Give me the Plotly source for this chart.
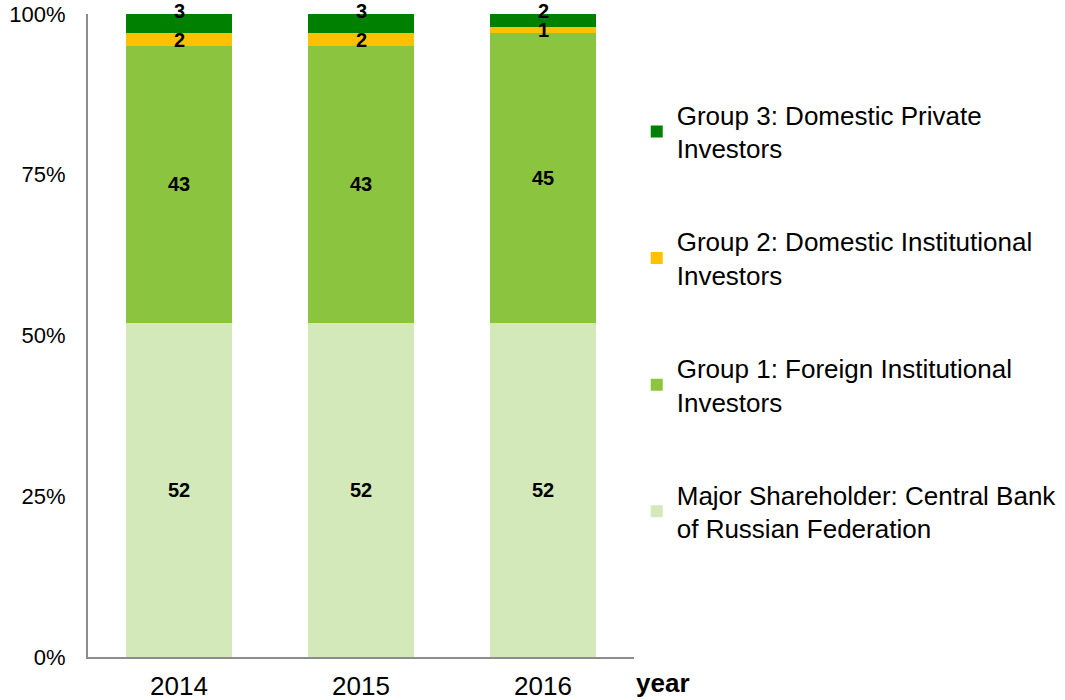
import plotly.graph_objects as go

years = ["2014", "2015", "2016"]
major = [52, 52, 52]
group1 = [43, 43, 45]
group2 = [2, 2, 1]
group3 = [3, 3, 2]
y_ticks = [0, 25, 50, 75, 100]
y_tick_labels = ["0%", "25%", "50%", "75%", "100%"]

series = [
    ("Major Shareholder: Central Bank<br>of Russian Federation", major, "#D3E9B9"),
    ("Group 1: Foreign Institutional<br>Investors", group1, "#8BC53F"),
    ("Group 2: Domestic Institutional<br>Investors", group2, "#FFC000"),
    ("Group 3: Domestic Private<br>Investors", group3, "#008000"),
]

FONT = "Liberation Sans, Arial, sans-serif"
fig = go.Figure()
n = len(series)
for i, (name, vals, color) in enumerate(series):
    fig.add_trace(go.Bar(
        x=years, y=vals, name=name, marker=dict(color=color, line=dict(width=0)),
        legendgroup=f"g{i}", legendrank=n - i, hoverinfo="skip",
    ))

# data labels computed from cumulative sums (x given as category index)
annotations = []
for j, yr in enumerate(years):
    base = 0
    for i, (name, vals, color) in enumerate(series):
        v = vals[j]
        top = base + v
        is_top = i == n - 1
        annotations.append(dict(
            x=j, y=top if is_top else base + v / 2, xref="x", yref="y",
            text=f"<b>{v}</b>", showarrow=False,
            font=dict(family=FONT, size=20, color="black"),
            yshift=3 if is_top else 0,
            xanchor="center", yanchor="middle",
        ))
        base = top

annotations.append(dict(
    x=1.053, y=-0.04, xref="paper", yref="paper", text="<b>year</b>",
    showarrow=False, font=dict(family=FONT, size=26, color="black"),
    xanchor="center", yanchor="middle",
))

fig.update_layout(
    barmode="stack",
    bargap=0.42,
    width=1065, height=700,
    margin=dict(l=88, r=431, t=14, b=43, autoexpand=False),
    paper_bgcolor="white", plot_bgcolor="white",
    font=dict(family=FONT, color="black"),
    annotations=annotations,
    showlegend=True,
    legend=dict(
        traceorder="grouped", tracegroupgap=56,
        x=1.005, xanchor="left", y=0.88, yanchor="top",
        font=dict(family=FONT, size=26, color="black"),
        bgcolor="rgba(0,0,0,0)",
    ),
    xaxis=dict(
        type="category", automargin=False, autorange=False, range=[-0.5, 2.5],
        showline=True, linecolor="#8C8C8C", linewidth=2,
        tickfont=dict(family=FONT, size=26), showgrid=False,
        ticks="outside", ticklen=5, tickcolor="rgba(0,0,0,0)",
    ),
    yaxis=dict(
        range=[0, 100], tickmode="array", tickvals=y_ticks, ticktext=y_tick_labels,
        automargin=False,
        showline=True, linecolor="#8C8C8C", linewidth=2,
        tickfont=dict(family=FONT, size=22), showgrid=False,
        zeroline=False, ticks="outside", ticklen=16, tickcolor="rgba(0,0,0,0)",
    ),
)

fig.write_html(
    "out.html",
    config={"displayModeBar": False},
    post_script="document.body.style.margin='0';document.body.style.overflow='hidden';",
)
